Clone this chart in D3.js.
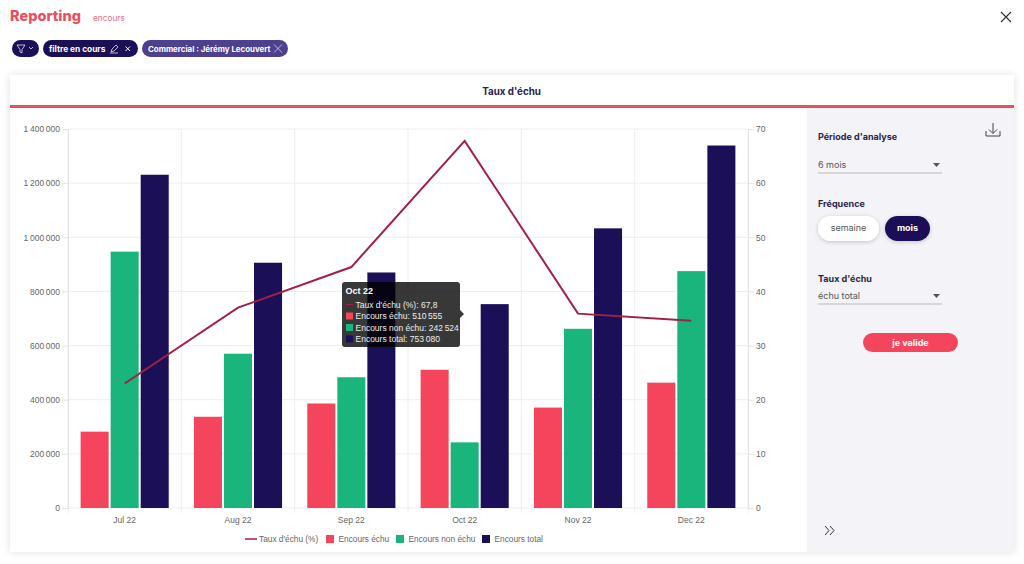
<!DOCTYPE html>
<html>
<head>
<meta charset="utf-8">
<script src="https://cdn.jsdelivr.net/npm/d3@7"></script>
<style>
html, body { margin: 0; padding: 0; background: #fff; overflow: hidden; }
svg { display: block; }
.ui { font-family: Inter, "Open Sans", sans-serif; }
.chart { font-family: "Liberation Sans", Arial, sans-serif; }
.grid line { stroke: #eeeef2; stroke-width: 1; }
.axis text { fill: #666; font-size: 8.5px; font-family: "Liberation Sans", Arial, sans-serif; }
.axis line, .axis path { stroke: #e4e4e9; }
</style>
</head>
<body>
<svg width="1024" height="564"></svg>
<script>
var months = ["Jul 22", "Aug 22", "Sep 22", "Oct 22", "Nov 22", "Dec 22"];
var encoursEchu = [282000, 337000, 386000, 510555, 371000, 463000];
var encoursNonEchu = [947000, 570000, 483000, 242524, 662000, 875000];
var encoursTotal = [1231000, 906000, 870000, 753080, 1033000, 1339000];
var tauxEchu = [23, 37, 44.5, 67.8, 35.9, 34.6];
var leftTicks = [0, 200000, 400000, 600000, 800000, 1000000, 1200000, 1400000];
var rightTicks = [0, 10, 20, 30, 40, 50, 60, 70];

var RED = "#f4455c", GREEN = "#19b57c", NAVY = "#1b1058", LINE = "#a31f47";
var barSeries = [
    { name: "Encours échu", values: encoursEchu, color: RED },
    { name: "Encours non échu", values: encoursNonEchu, color: GREEN },
    { name: "Encours total", values: encoursTotal, color: NAVY }
];

var svg = d3.select("svg");
var fr = d3.formatLocale({ decimal: ",", thousands: "\u2009", grouping: [3], currency: ["", "€"] });
var fmt = fr.format(",d");

var defs = svg.append("defs");
var shadow = defs.append("filter").attr("id", "card").attr("x", "-5%").attr("y", "-5%").attr("width", "110%").attr("height", "110%");
shadow.append("feDropShadow").attr("dx", 0).attr("dy", 0).attr("stdDeviation", 4).attr("flood-color", "#000").attr("flood-opacity", 0.12);
var soft = defs.append("filter").attr("id", "soft").attr("x", "-20%").attr("y", "-30%").attr("width", "140%").attr("height", "170%");
soft.append("feDropShadow").attr("dx", 0).attr("dy", 1).attr("stdDeviation", 2).attr("flood-color", "#000").attr("flood-opacity", 0.2);

function text(g, x, y, s, size, weight, color, anchor) {
    return g.append("text").attr("x", x).attr("y", y).text(s)
        .attr("font-size", size).attr("font-weight", weight).attr("fill", color)
        .attr("text-anchor", anchor || "start");
}

/**
 * Page header and filter pills
 */
function drawHeader() {
    var g = svg.append("g").attr("class", "ui");
    text(g, 10, 21, "Reporting", 14.5, 800, "#e8505f");
    text(g, 93, 20.5, "encours", 8.3, 400, "#e8707c");
    g.append("path").attr("d", "M1001 12L1011 22M1011 12L1001 22").attr("stroke", "#333").attr("stroke-width", 1.2).attr("fill", "none");

    g.append("rect").attr("x", 12).attr("y", 40).attr("width", 27).attr("height", 17).attr("rx", 8.5).attr("fill", NAVY);
    g.append("path").attr("d", "M17 45H25L22 49.5V53L20 52V49.5Z").attr("stroke", "#fff").attr("stroke-width", 0.7).attr("fill", "none");
    g.append("path").attr("d", "M29 47L31 49L33 47").attr("stroke", "#fff").attr("stroke-width", 0.7).attr("fill", "none");

    g.append("rect").attr("x", 43).attr("y", 40).attr("width", 95).attr("height", 17).attr("rx", 8.5).attr("fill", NAVY);
    text(g, 49, 51.5, "filtre en cours", 8.3, 700, "#fff");
    g.append("path").attr("d", "M111 52L112 49L116 45L118 47L114 51Z M110 53H118").attr("stroke", "#fff").attr("stroke-width", 0.7).attr("fill", "none");
    g.append("path").attr("d", "M125.5 46.5L130 51M130 46.5L125.5 51").attr("stroke", "#fff").attr("stroke-width", 1).attr("fill", "none");

    g.append("rect").attr("x", 142).attr("y", 40).attr("width", 146).attr("height", 17).attr("rx", 8.5).attr("fill", "#4f3f8f");
    text(g, 148, 51.5, "Commercial : Jérémy Lecouvert", 7.9, 700, "#fff");
    g.append("path").attr("d", "M274 44.5L282 52.5M282 44.5L274 52.5").attr("stroke", "#d8d4ee").attr("stroke-width", 0.8).attr("fill", "none");
}

/**
 * White card with title and the grey side panel
 */
function drawCard() {
    var g = svg.append("g").attr("class", "ui");
    g.append("rect").attr("x", 10).attr("y", 75).attr("width", 1004).attr("height", 477).attr("fill", "#fff").attr("filter", "url(#card)");
    text(g, 511.5, 95, "Taux d'échu", 9.8, 700, "#2a2350", "middle");
    g.append("rect").attr("x", 807).attr("y", 108).attr("width", 207).attr("height", 444).attr("fill", "#f3f3f8");
    g.append("rect").attr("x", 10).attr("y", 105).attr("width", 1004).attr("height", 3).attr("fill", "#e8505f");
}

function drawPanel() {
    var g = svg.append("g").attr("class", "ui");
    var dark = "#2a2350", grey = "#555";

    text(g, 818, 140, "Période d'analyse", 9, 700, dark);
    text(g, 818, 168, "6 mois", 9, 400, grey);
    g.append("path").attr("d", "M933 163H940L936.5 167Z").attr("fill", "#555");
    g.append("line").attr("x1", 818).attr("x2", 942).attr("y1", 173).attr("y2", 173).attr("stroke", "#b9b9c4");

    text(g, 818, 207, "Fréquence", 9, 700, dark);
    g.append("rect").attr("x", 818).attr("y", 216).attr("width", 61).attr("height", 25).attr("rx", 12.5).attr("fill", "#fff").attr("filter", "url(#soft)");
    text(g, 848.5, 231, "semaine", 9, 400, grey, "middle");
    g.append("rect").attr("x", 885).attr("y", 216).attr("width", 45).attr("height", 25).attr("rx", 12.5).attr("fill", NAVY).attr("filter", "url(#soft)");
    text(g, 907.5, 231, "mois", 9, 700, "#fff", "middle");

    text(g, 818, 282, "Taux d'échu", 9, 700, dark);
    text(g, 818, 299, "échu total", 9, 400, grey);
    g.append("path").attr("d", "M933 294H940L936.5 298Z").attr("fill", "#555");
    g.append("line").attr("x1", 818).attr("x2", 942).attr("y1", 304).attr("y2", 304).attr("stroke", "#b9b9c4");

    g.append("rect").attr("x", 863).attr("y", 333).attr("width", 95).attr("height", 19).attr("rx", 9.5).attr("fill", RED);
    text(g, 910.5, 346, "je valide", 9, 700, "#fff", "middle");

    // download icon
    g.append("path").attr("d", "M993 123V133M989 129.5L993 133.5L997 129.5M986 131V136H1000V131")
        .attr("stroke", "#444").attr("stroke-width", 1).attr("fill", "none");
    // collapse arrows
    g.append("path").attr("d", "M825 526L829 530.5L825 535M830 526L834 530.5L830 535")
        .attr("stroke", "#333").attr("stroke-width", 1).attr("fill", "none");
}

function drawChart() {
    var left = 68, right = 748, top = 129, bottom = 508;
    var x = d3.scaleBand().domain(months).range([left, right]);
    var inner = d3.scaleBand().domain(barSeries.map(function(s) { return s.name; }))
        .range([0, x.bandwidth()]).paddingInner(0.067).paddingOuter(0.42);
    var y = d3.scaleLinear().domain([0, 1400000]).range([bottom, top]);
    var yRight = d3.scaleLinear().domain([0, 70]).range([bottom, top]);

    var g = svg.append("g").attr("class", "chart");

    var grid = g.append("g").attr("class", "grid");
    grid.selectAll(".h").data(leftTicks).enter().append("line")
        .attr("x1", left).attr("x2", right)
        .attr("y1", function(d) { return y(d); }).attr("y2", function(d) { return y(d); });
    grid.selectAll(".v").data(d3.range(months.length + 1)).enter().append("line")
        .attr("x1", function(d) { return left + d * x.step(); })
        .attr("x2", function(d) { return left + d * x.step(); })
        .attr("y1", top).attr("y2", bottom + 5);

    g.append("g").attr("class", "axis").attr("transform", "translate(" + left + ",0)")
        .call(d3.axisLeft(y).tickValues(leftTicks).tickFormat(fmt).tickSize(6).tickPadding(2));
    g.append("g").attr("class", "axis").attr("transform", "translate(" + right + ",0)")
        .call(d3.axisRight(yRight).tickValues(rightTicks).tickSize(6).tickPadding(2));
    g.append("g").attr("class", "axis").attr("transform", "translate(0," + bottom + ")")
        .call(d3.axisBottom(x).tickSize(0).tickPadding(9))
        .select(".domain").remove();

    barSeries.forEach(function(s) {
        g.append("g").selectAll("rect").data(s.values).enter().append("rect")
            .attr("x", function(d, i) { return x(months[i]) + inner(s.name); })
            .attr("width", inner.bandwidth())
            .attr("y", function(d) { return y(d); })
            .attr("height", function(d) { return bottom - y(d); })
            .attr("fill", s.color);
    });

    var line = d3.line()
        .x(function(d, i) { return x(months[i]) + x.bandwidth() / 2; })
        .y(function(d) { return yRight(d); });
    g.append("path").datum(tauxEchu).attr("d", line)
        .attr("fill", "none").attr("stroke", LINE).attr("stroke-width", 2);

    drawLegend(g);
    drawTooltip(g, x, y);
}

function drawLegend(g) {
    var lg = g.append("g").attr("font-size", 8.3).attr("fill", "#666");
    lg.append("line").attr("x1", 245).attr("x2", 257).attr("y1", 539).attr("y2", 539).attr("stroke", LINE).attr("stroke-width", 1.5);
    lg.append("text").attr("x", 259).attr("y", 542).text("Taux d'échu (%)");
    var xs = [326, 396, 482];
    barSeries.forEach(function(s, i) {
        lg.append("rect").attr("x", xs[i]).attr("y", 535).attr("width", 8).attr("height", 8).attr("fill", s.color);
        lg.append("text").attr("x", xs[i] + 12.5).attr("y", 542).text(s.name);
    });
}

function drawTooltip(g, x, y) {
    var i = 3, tx = 342, ty = 282;
    var tip = g.append("g").attr("transform", "translate(" + tx + "," + ty + ")");
    tip.append("rect").attr("width", 118).attr("height", 65).attr("rx", 3).attr("fill", "#000").attr("fill-opacity", 0.78);
    tip.append("path").attr("d", "M118 28L122 32L118 36Z").attr("fill", "#000").attr("fill-opacity", 0.78);
    tip.append("text").attr("x", 3.5).attr("y", 11.5).text(months[i]).attr("fill", "#fff").attr("font-size", 9).attr("font-weight", 700);

    var rows = [
        { label: "Taux d'échu (%): " + String(tauxEchu[i]).replace(".", ","), color: LINE, isLine: true },
        { label: "Encours échu: " + fmt(encoursEchu[i]), color: RED },
        { label: "Encours non échu: " + fmt(encoursNonEchu[i]), color: GREEN },
        { label: "Encours total: " + fmt(encoursTotal[i]), color: NAVY }
    ];
    rows.forEach(function(r, k) {
        var ry = 22.5 + k * 11.5;
        if (r.isLine) {
            tip.append("line").attr("x1", 4).attr("x2", 11).attr("y1", ry).attr("y2", ry).attr("stroke", r.color).attr("stroke-width", 1);
        } else {
            tip.append("rect").attr("x", 4).attr("y", ry - 3.5).attr("width", 7).attr("height", 7).attr("fill", r.color);
        }
        tip.append("text").attr("x", 13.5).attr("y", ry + 3).text(r.label).attr("fill", "#eee").attr("font-size", 8.5);
    });
}

function main() {
    drawHeader();
    drawCard();
    drawChart();
    drawPanel();
}
main();
</script>
</body>
</html>
